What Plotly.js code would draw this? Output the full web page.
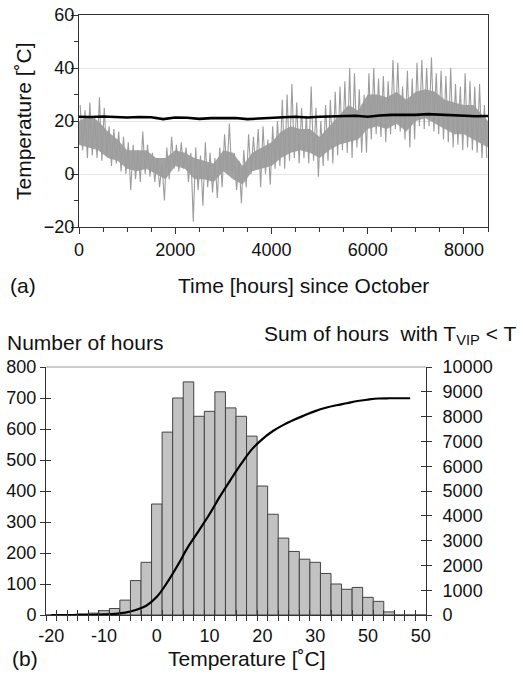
<!DOCTYPE html>
<html>
<head>
<meta charset="utf-8">
<script src="https://cdn.plot.ly/plotly-3.0.1.min.js"></script>
<style>html,body{margin:0;padding:0;background:#fff;}#chart{width:523px;height:680px;}</style>
</head>
<body>
<div id="chart"></div>
<script>
// ---------- (a) hourly outdoor temperature, read as 100-hour high / low extremes ----------
const binHours = 100;
const outdoorHigh = [26,24,27,22,29,25,18,17,16,14,12,11,9,16,11,8,6,4,10,14,11,12,10,8,10,7,12,8,6,10,
  15,19,8,5,9,15,14,17,18,13,18,20,28,30,34,27,25,22,33,25,20,26,28,31,33,35,40,38,32,30,
  38,40,36,37,35,43,42,33,39,36,42,43,40,44,38,39,37,40,34,33,38,35,33,34,26];
const outdoorLow = [9,6,7,6,5,7,3,4,1,0,-6,-2,-3,0,-1,-3,-5,-10,-2,2,1,2,-3,-18,-6,-12,-5,-7,-9,-5,
  1,0,-6,-11,-5,0,2,-5,0,-4,2,3,2,5,6,4,6,4,5,-1,3,5,4,7,9,8,6,10,8,8,
  13,15,14,12,15,17,16,13,10,13,18,17,18,16,15,13,12,10,11,9,10,9,8,6,6];
// dense core of the hourly band, every 200 hours
const coreHours = [0,200,400,600,800,1000,1200,1400,1600,1800,2000,2200,2400,2600,2800,3000,3200,3400,3600,3800,
  4000,4200,4400,4600,4800,5000,5200,5400,5600,5800,6000,6200,6400,6600,6800,7000,7200,7400,7600,7800,8000,8200,8400,8500];
const coreHigh = [20,22,20,16,13,9,9,9,6,6,9,8,6,5,4,9,8,3,8,10,
  12,16,18,17,17,14,18,22,26,24,30,30,29,31,28,31,32,31,28,27,26,26,22,20];
const coreLow = [11,10,9,6,5,2,1,2,0,-2,3,2,-2,-2,-3,1,-2,-4,1,2,
  3,6,8,9,8,6,9,11,12,13,17,18,17,19,16,20,21,19,17,15,15,13,11,10];
// indoor (VIP) temperature, every 250 hours
const vipHours = [0,250,500,750,1000,1250,1500,1750,2000,2250,2500,2750,3000,3250,3500,3750,4000,4250,
  4500,4750,5000,5250,5500,5750,6000,6250,6500,6750,7000,7250,7500,7750,8000,8250,8500];
const vipTemp = [21.6,21.5,21.7,21.4,21.3,21.5,21.4,20.7,21.3,21.2,20.8,21.1,21.0,21.1,20.7,21.0,21.2,21.4,
  21.6,21.3,21.6,21.8,21.9,22.0,21.6,22.1,22.3,22.2,22.3,22.6,22.4,22.1,22.0,21.8,21.9];

// ---------- (b) histogram ----------
const binCenters = [-20,-18,-16,-14,-12,-10,-8,-6,-4,-2,0,2,4,6,8,10,12,14,16,18,20,22,24,26,28,30,32,34,36,38,40,42,44,46,48,50];
const hoursCount = [0,0,1,3,6,14,21,48,111,170,358,590,700,752,641,657,720,668,641,577,416,325,248,205,180,170,134,100,83,89,57,44,10,0,0,0];
const cumCenters = [-20,-18,-16,-14,-12,-10,-8,-6,-4,-2,0,2,4,6,8,10,12,14,16,18,20,22,24,26,28,30,32,34,36,38,40,42,44,46,48];
const cumHours = [0,0,1,4,10,24,45,93,204,374,732,1322,2022,2774,3415,4072,4792,5460,6101,6678,7094,7419,7667,7872,8052,8222,8356,8456,8539,8628,8685,8729,8739,8739,8739];
const tempTickVals = [-20,-10,0,10,20,30,40,50];
const tempTickText = ["-20","-10","0","10","20","30","50","50"];

// zig-zag between each 100-hour high and low
const zx = [], zy = [];
for (let i = 0; i < outdoorHigh.length; i++) {
  zx.push(i*binHours + 25); zy.push(outdoorHigh[i]);
  zx.push(i*binHours + 75); zy.push(outdoorLow[i]);
}

const W = 523, H = 680;
const px = v => v / W, py = v => 1 - v / H;
const FONT = 'Liberation Sans, Arial, Helvetica, sans-serif';
const AX = '#333';
const GRAY = '#9c9c9c';

const traces = [
  {type:'scatter', mode:'lines', x:coreHours, y:coreLow, xaxis:'x', yaxis:'y',
   line:{color:GRAY, width:0}, hoverinfo:'skip', showlegend:false},
  {type:'scatter', mode:'lines', x:coreHours, y:coreHigh, xaxis:'x', yaxis:'y', fill:'tonexty',
   fillcolor:'#a2a2a2', line:{color:GRAY, width:0}, hoverinfo:'skip', showlegend:false},
  {type:'scatter', mode:'lines', x:zx, y:zy, xaxis:'x', yaxis:'y',
   line:{color:GRAY, width:1.1}, hoverinfo:'skip', showlegend:false},
  {type:'scatter', mode:'lines', x:vipHours, y:vipTemp, xaxis:'x', yaxis:'y',
   line:{color:'#000', width:2.6}, showlegend:false},
  {type:'bar', x:binCenters, y:hoursCount, xaxis:'x2', yaxis:'y2', width:2,
   marker:{color:'#c2c2c2', line:{color:'#444', width:1}}, showlegend:false},
  {type:'scatter', mode:'lines', x:cumCenters, y:cumHours, xaxis:'x2', yaxis:'y3',
   line:{color:'#000', width:2.2, shape:'spline', smoothing:1}, showlegend:false},
  {type:'scatter', mode:'lines', x:[null], y:[null], xaxis:'x3', yaxis:'y4', showlegend:false, hoverinfo:'skip'},
  {type:'scatter', mode:'lines', x:[null], y:[null], xaxis:'x4', yaxis:'y5', showlegend:false, hoverinfo:'skip'}
];

const tickFont = {family:FONT, size:18, color:'#111'};
const layout = {
  width:W, height:H, autosize:false,
  margin:{l:0,r:0,t:0,b:0},
  paper_bgcolor:'#fff', plot_bgcolor:'rgba(0,0,0,0)',
  font:{family:FONT, color:'#111'},
  showlegend:false,
  xaxis:{domain:[px(79),px(488)], anchor:'y', range:[0,8500], tickmode:'linear', tick0:0, dtick:2000,
    ticks:'outside', ticklen:6, tickcolor:AX, showline:true, linecolor:AX, linewidth:1, mirror:true,
    showgrid:false, zeroline:false, tickfont:tickFont, tickformat:'d',
    minor:{dtick:500, ticks:'outside', ticklen:4, tickcolor:AX, showgrid:false}},
  yaxis:{domain:[py(227),py(15)], anchor:'x', range:[-20,60], tickmode:'linear', tick0:-20, dtick:20,
    ticks:'outside', ticklen:7, tickcolor:AX, showline:true, linecolor:AX, linewidth:1, mirror:true,
    showgrid:true, gridcolor:'#e6e6e6', zeroline:false, tickfont:tickFont, ticklabelstandoff:-7,
    minor:{dtick:10, ticks:'outside', ticklen:4, tickcolor:AX, showgrid:false}},
  xaxis2:{domain:[px(46),px(426)], anchor:'y2', range:[-21,51], tickmode:'linear', tick0:-21, dtick:2,
    ticks:'outside', ticklen:5, tickcolor:AX, showticklabels:false, showline:true, linecolor:AX,
    showgrid:false, zeroline:false},
  xaxis3:{overlaying:'x2', anchor:'y2', range:[-21,51], tickmode:'linear', tick0:-21, dtick:2,
    ticks:'inside', ticklen:5, tickcolor:AX, showticklabels:false, showline:false, showgrid:false, zeroline:false},
  xaxis4:{overlaying:'x2', anchor:'y2', range:[-21,51], tickmode:'array', tickvals:tempTickVals, ticktext:tempTickText,
    ticks:'', showline:false, showgrid:false, zeroline:false, tickfont:tickFont, ticklabelstandoff:8},
  yaxis2:{domain:[py(615),py(367)], anchor:'x2', range:[0,800], tickmode:'linear', tick0:0, dtick:100,
    ticks:'outside', ticklen:5, tickcolor:AX, showline:true, linecolor:AX, showgrid:false, zeroline:false,
    tickfont:tickFont},
  yaxis3:{overlaying:'y2', anchor:'x2', side:'right', range:[0,10000], tickmode:'linear', tick0:0, dtick:1000,
    ticks:'outside', ticklen:5, tickcolor:AX, showline:true, linecolor:AX, showgrid:false, zeroline:false,
    tickfont:tickFont, tickformat:'d', ticklabelstandoff:7},
  yaxis4:{overlaying:'y2', anchor:'x2', side:'left', range:[0,800], tickmode:'linear', tick0:0, dtick:100,
    ticks:'inside', ticklen:5, tickcolor:AX, showticklabels:false, showline:false, showgrid:false, zeroline:false},
  yaxis5:{overlaying:'y2', anchor:'x2', side:'right', range:[0,10000], tickmode:'linear', tick0:0, dtick:1000,
    ticks:'inside', ticklen:5, tickcolor:AX, showticklabels:false, showline:false, showgrid:false, zeroline:false},
  shapes:[
    {type:'line', xref:'x2 domain', yref:'y2 domain', x0:0, x1:1, y0:1, y1:1, line:{color:'#999', width:1}}
  ],
  annotations:[
    {text:'Temperature [˚C]', xref:'paper', yref:'paper', x:px(23), y:py(121), textangle:-90,
     showarrow:false, xanchor:'center', yanchor:'middle', font:{size:21}},
    {text:'(a)', xref:'paper', yref:'paper', x:px(8), y:py(285), showarrow:false, xanchor:'left', yanchor:'middle', font:{size:21}},
    {text:'Time [hours] since October', xref:'paper', yref:'paper', x:px(303), y:py(285), showarrow:false,
     xanchor:'center', yanchor:'middle', font:{size:21}},
    {text:'Number of hours', xref:'paper', yref:'paper', x:px(5), y:py(342), showarrow:false, xanchor:'left', yanchor:'middle', font:{size:21}},
    {text:'Sum of hours  with T<sub>VIP</sub> &lt; T', xref:'paper', yref:'paper', x:px(262), y:py(335), showarrow:false,
     xanchor:'left', yanchor:'middle', font:{size:21}},
    {text:'(b)', xref:'paper', yref:'paper', x:px(10), y:py(658), showarrow:false, xanchor:'left', yanchor:'middle', font:{size:21}},
    {text:'Temperature [˚C]', xref:'paper', yref:'paper', x:px(247), y:py(658), showarrow:false,
     xanchor:'center', yanchor:'middle', font:{size:21}}
  ]
};

Plotly.newPlot('chart', traces, layout, {staticPlot:true, displayModeBar:false});
</script>
</body>
</html>
